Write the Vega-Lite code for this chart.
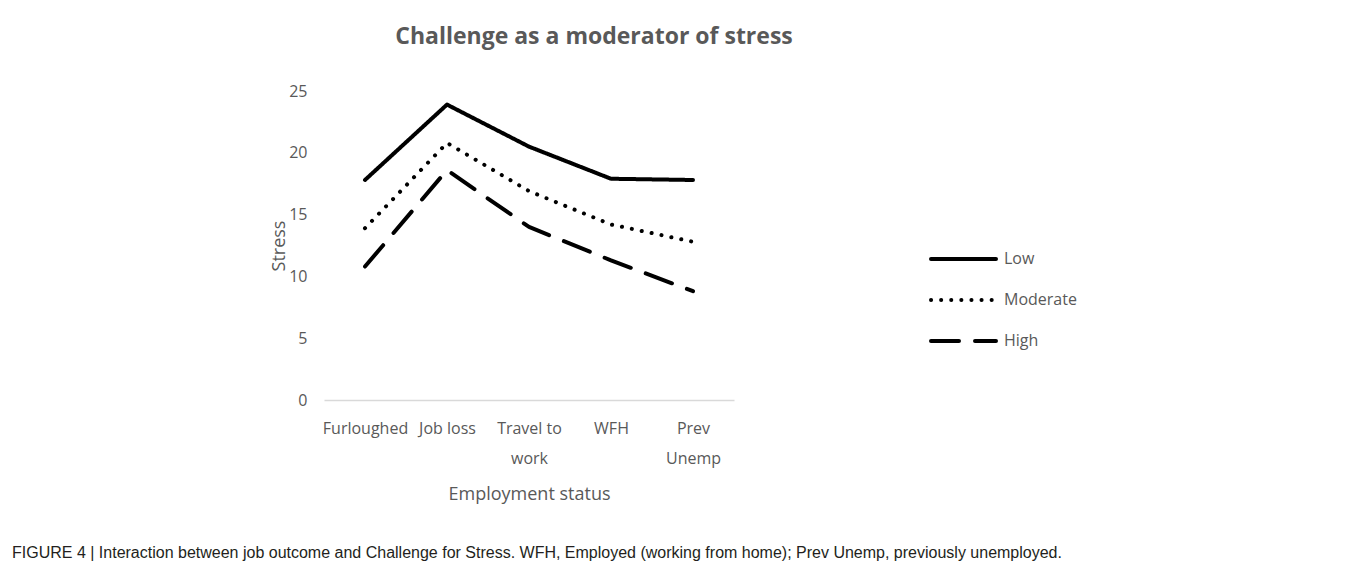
{
  "$schema": "https://vega.github.io/schema/vega-lite/v6.json",
  "padding": {"left": 12, "top": 26, "right": 5, "bottom": 5},
  "background": "white",
  "title": {
    "text": "FIGURE 4 | Interaction between job outcome and Challenge for Stress. WFH, Employed (working from home); Prev Unemp, previously unemployed.",
    "orient": "bottom",
    "anchor": "start",
    "frame": "group",
    "dx": -312,
    "offset": 42,
    "font": "Liberation Sans",
    "fontSize": 16,
    "fontWeight": "normal",
    "color": "#231f20"
  },
  "config": {
    "view": {"stroke": null},
    "font": "Open Sans"
  },
  "vconcat": [
    {
      "width": 410,
      "height": 309,
      "title": {
        "text": "Challenge as a moderator of stress",
        "font": "Open Sans",
        "fontSize": 23,
        "fontWeight": "bold",
        "color": "#595959",
        "anchor": "middle",
        "dx": 65,
        "offset": 34
      },
      "data": {
        "values": [
          {"status": "Furloughed", "challenge": "Low", "stress": 17.8},
          {"status": "Job loss", "challenge": "Low", "stress": 23.9},
          {"status": "Travel to work", "challenge": "Low", "stress": 20.5},
          {"status": "WFH", "challenge": "Low", "stress": 17.9},
          {"status": "Prev Unemp", "challenge": "Low", "stress": 17.8},
          {"status": "Furloughed", "challenge": "Moderate", "stress": 13.9},
          {"status": "Job loss", "challenge": "Moderate", "stress": 20.8},
          {"status": "Travel to work", "challenge": "Moderate", "stress": 16.9},
          {"status": "WFH", "challenge": "Moderate", "stress": 14.2},
          {"status": "Prev Unemp", "challenge": "Moderate", "stress": 12.8},
          {"status": "Furloughed", "challenge": "High", "stress": 10.8},
          {"status": "Job loss", "challenge": "High", "stress": 18.6},
          {"status": "Travel to work", "challenge": "High", "stress": 14.0},
          {"status": "WFH", "challenge": "High", "stress": 11.3},
          {"status": "Prev Unemp", "challenge": "High", "stress": 8.8}
        ]
      },
      "mark": {"type": "line", "strokeWidth": 4, "strokeCap": "round", "strokeJoin": "round", "color": "black"},
      "encoding": {
        "x": {
          "field": "status",
          "type": "ordinal",
          "sort": ["Furloughed", "Job loss", "Travel to work", "WFH", "Prev Unemp"],
          "scale": {"type": "point", "padding": 0.5},
          "axis": {
            "title": "Employment status",
            "titleFont": "Open Sans",
            "titleFontSize": 18,
            "titleFontWeight": "normal",
            "titleColor": "#595959",
            "titlePadding": 19,
            "labelFont": "Open Sans",
            "labelFontSize": 16,
            "labelColor": "#595959",
            "labelAngle": 0,
            "labelPadding": 20,
            "labelLineHeight": 30,
            "labelExpr": "datum.value == 'Travel to work' ? ['Travel to', 'work'] : datum.value == 'Prev Unemp' ? ['Prev', 'Unemp'] : datum.label",
            "ticks": false,
            "domainColor": "#d9d9d9",
            "domainWidth": 1.5,
            "grid": false
          }
        },
        "y": {
          "field": "stress",
          "type": "quantitative",
          "scale": {"domain": [0, 25]},
          "axis": {
            "title": "Stress",
            "titleFont": "Open Sans",
            "titleFontSize": 18,
            "titleFontWeight": "normal",
            "titleColor": "#595959",
            "titlePadding": 0,
            "labelFont": "Open Sans",
            "labelFontSize": 16,
            "labelColor": "#595959",
            "labelPadding": 17,
            "values": [0, 5, 10, 15, 20, 25],
            "ticks": false,
            "domain": false,
            "grid": false
          }
        },
        "strokeDash": {
          "field": "challenge",
          "type": "nominal",
          "scale": {"domain": ["Low", "Moderate", "High"], "range": [[1, 0], [0.1, 10], [28, 16]]},
          "legend": {
            "title": null,
            "orient": "none",
            "legendX": 605,
            "legendY": 158,
            "symbolType": "stroke",
            "symbolSize": 4225,
            "symbolStrokeWidth": 4,
            "symbolStrokeColor": "black",
            "clipHeight": 20,
            "rowPadding": 21,
            "labelOffset": 6,
            "labelFont": "Open Sans",
            "labelFontSize": 16,
            "labelColor": "#595959",
            "encode": {
              "symbols": {"update": {"strokeCap": {"value": "round"}}}
            }
          }
        }
      }
    }
  ]
}
